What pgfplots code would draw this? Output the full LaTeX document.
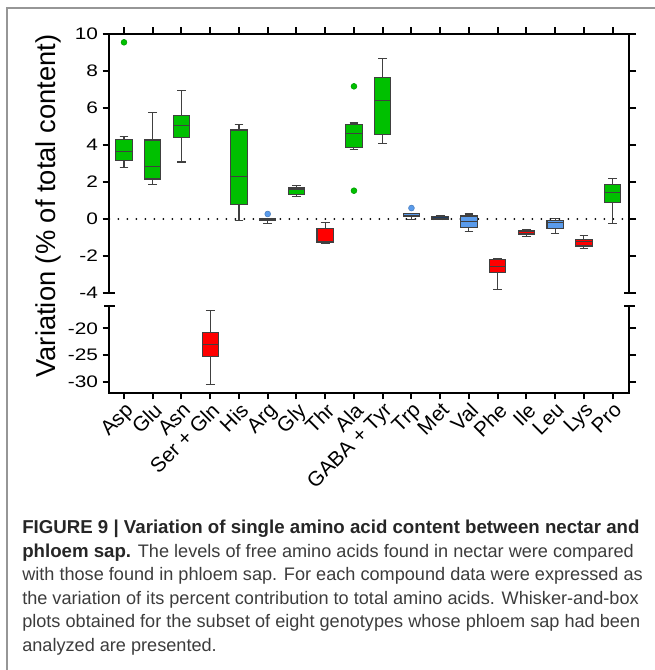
\documentclass[border=0pt]{standalone}
\usepackage{fontspec}
\setmainfont{Liberation Sans}
\newfontfamily\tickfont[FakeStretch=1.25]{Liberation Sans}
\newfontfamily\capfont{Liberation Sans}
\usepackage{pgfplots}
\pgfplotsset{compat=1.18}
\usepgfplotslibrary{statistics}

\definecolor{cgreen}{RGB}{0,192,0}
\definecolor{cred}{RGB}{255,0,0}
\definecolor{cblue}{RGB}{90,155,235}
\definecolor{cnavy}{RGB}{30,58,95}
\definecolor{framegray}{RGB}{150,150,150}
\definecolor{captxt}{RGB}{60,60,60}

% position, lower whisker, lower quartile, median, upper quartile, upper whisker, colour, outliers
\newcommand{\bx}[8]{\addplot[boxplot prepared={draw direction=y, draw position=#1,
  lower whisker=#2, lower quartile=#3, median=#4, upper quartile=#5, upper whisker=#6,
  box extend=0.57, whisker extend=0.3}, draw=black!75, line width=0.8pt, fill=#7,
  mark=*, mark size=2.2pt, mark options={fill=#7, draw=#7!80!black, line width=0.4pt}]
  coordinates {#8};}
\newcommand{\capbf}[1]{{\fontsize{14}{17.6}\selectfont\bfseries\color{black!85}#1}}

\pgfplotsset{brk/.style={scale only axis, width=390pt,
  xmin=-0.51, xmax=17.58, xtick={0,...,17},
  tick align=outside, major tick length=5pt,
  axis line style={line width=1.5pt, line cap=rect},
  every tick/.append style={black, line width=1.5pt},
  yticklabel style={font=\tickfont\fontsize{12.5}{14}\selectfont},
  /pgf/number format/assume math mode=true, clip=false}}

\begin{document}
\begin{tikzpicture}
\path[use as bounding box] (0,0) rectangle (490.5pt,502.5pt);
\draw[framegray, line width=1.1pt] (5.25pt,0) -- (5.25pt,496.5pt) -- (492pt,496.5pt);

\begin{axis}[brk, name=up, at={(82pt,477pt)}, anchor=north west, height=194.25pt,
  ymin=-4, ymax=10, ytick={-4,-2,...,10},
  axis x line*=top, axis y line*=box, xticklabels={}]
\addplot[black, line width=1.6pt, line cap=round, dash pattern=on 0pt off 6.75pt]
  coordinates {(-0.51,0) (17.58,0)};
\bx{0}{2.77}{3.14}{3.66}{4.32}{4.45}{cgreen}{(0,9.55)}
\bx{1}{1.84}{2.16}{2.85}{4.27}{5.75}{cgreen}{}
\bx{2}{3.08}{4.38}{5.05}{5.59}{6.97}{cgreen}{}
\bx{4}{-0.09}{0.79}{2.32}{4.81}{5.12}{cgreen}{}
\bx{5}{-0.23}{-0.09}{-0.02}{0.05}{0.05}{cblue}{(5,0.27)}
\bx{6}{1.23}{1.32}{1.62}{1.71}{1.82}{cgreen}{}
\bx{7}{-1.32}{-1.26}{-1.23}{-0.52}{-0.18}{cred}{}
\bx{8}{3.78}{3.84}{4.63}{5.12}{5.19}{cgreen}{(8,7.17) (8,1.53)}
\bx{9}{4.07}{4.58}{6.43}{7.66}{8.67}{cgreen}{}
\bx{10}{-0.04}{0.11}{0.20}{0.29}{0.29}{cblue}{(10,0.59)}
\bx{11}{-0.04}{-0.02}{0.05}{0.12}{0.18}{cnavy}{}
\bx{12}{-0.68}{-0.47}{-0.16}{0.16}{0.27}{cblue}{}
\bx{13}{-3.82}{-2.90}{-2.58}{-2.20}{-2.14}{cred}{}
\bx{14}{-0.95}{-0.81}{-0.70}{-0.61}{-0.58}{cred}{}
\bx{15}{-0.77}{-0.49}{-0.20}{-0.09}{0.04}{cblue}{}
\bx{16}{-1.57}{-1.46}{-1.24}{-1.10}{-0.88}{cred}{}
\bx{17}{-0.23}{0.90}{1.42}{1.86}{2.20}{cgreen}{}
\end{axis}

\begin{axis}[brk, name=lo, at={(82pt,273pt)}, anchor=north west, height=65pt,
  ymin=-32, ymax=-15.8, ytick={-30,-25,-20},
  axis x line*=bottom, axis y line*=box,
  xticklabels={Asp,Glu,Asn,Ser + Gln,His,Arg,Gly,Thr,Ala,GABA + Tyr,Trp,Met,Val,Phe,Ile,Leu,Lys,Pro},
  xticklabel style={rotate=45, anchor=north east, inner sep=1pt,
    font=\fontsize{15.5}{17}\selectfont}]
\bx{3}{-30.4}{-25.3}{-23.0}{-20.7}{-16.6}{cred}{}
\end{axis}

% axis break caps
\foreach \c in {up.south west, up.south east, lo.north west, lo.north east}
  \draw[line width=1.5pt] (\c) ++(-4pt,0) -- ++(8pt,0);

\node[rotate=90, font=\fontsize{20.5}{24}\selectfont] at (36pt,348pt)
  {Variation (\% of total content)};

\node[anchor=north west, inner sep=0pt, align=left, text=captxt,
  font=\capfont\fontsize{13.6}{17.6}\selectfont] at (16.5pt,112.5pt)
  {\capbf{FIGURE 9 | Variation of single amino acid content between nectar and}\\
   \capbf{phloem sap.} The levels of free amino acids found in nectar were compared\\
   with those found in phloem sap. For each compound data were expressed as\\
   the variation of its percent contribution to total amino acids. Whisker-and-box\\
   plots obtained for the subset of eight genotypes whose phloem sap had been\\
   analyzed are presented.};
\end{tikzpicture}
\end{document}
